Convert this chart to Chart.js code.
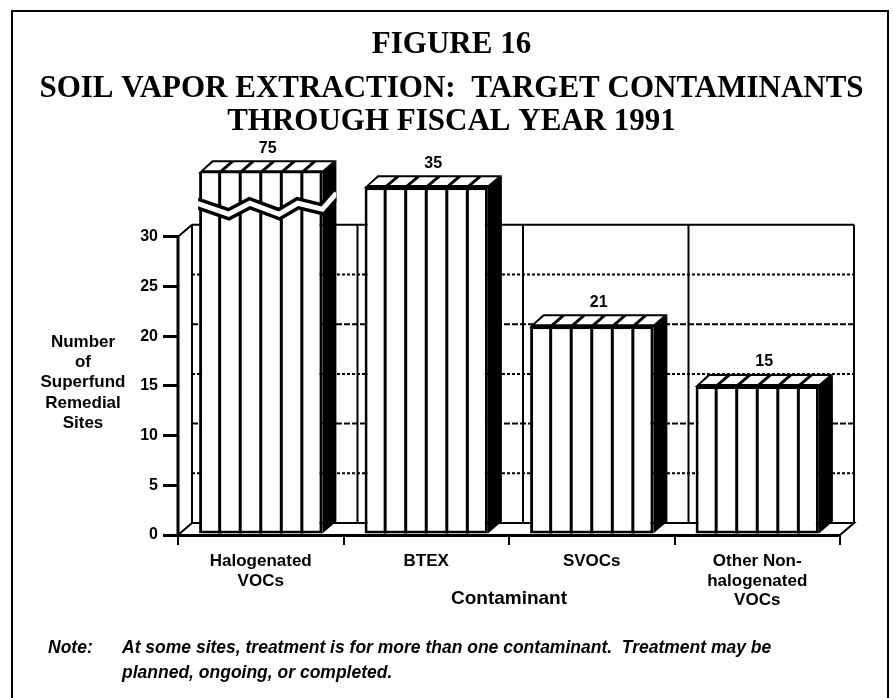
<!DOCTYPE html>
<html lang="en">

<head>
    <meta charset="UTF-8">
    <meta name="viewport" content="width=device-width, initial-scale=1.0">
    <title>Figure 16 - Soil Vapor Extraction</title>
    <style>
        html, body { margin: 0; padding: 0; background: #fff; }
        body { width: 893px; height: 698px; overflow: hidden; position: relative; }
        #frame { position: absolute; left: 11px; top: 10px; width: 874px; height: 760px; border: 2px solid #000; }
        #wrap { position: absolute; left: 0; top: 0; width: 893px; height: 698px; }
    </style>
</head>

<body>
    <div id="frame"></div>
    <div id="wrap">
        <canvas id="myChart" width="893" height="698"></canvas>
    </div>

    <script src="https://cdn.jsdelivr.net/npm/chart.js@4.4.2/dist/chart.umd.min.js"></script>

    <script>
        const categories = [
            ['Halogenated', 'VOCs'],
            ['BTEX'],
            ['SVOCs'],
            ['Other Non-', 'halogenated', 'VOCs'],
        ];
        const sites = [75, 35, 21, 15];
        const yTickValues = [0, 5, 10, 15, 20, 25, 30];

        const titleLines = ['FIGURE 16'];
        const subtitleLines = ['SOIL VAPOR EXTRACTION:  TARGET CONTAMINANTS', 'THROUGH FISCAL YEAR 1991'];
        const yTitleLines = ['Number', 'of', 'Superfund', 'Remedial', 'Sites'];
        const xTitle = 'Contaminant';
        const noteLabel = 'Note:';
        const noteLines = [
            'At some sites, treatment is for more than one contaminant.  Treatment may be',
            'planned, ongoing, or completed.',
        ];

        // back wall stops at 30, anything above the axis top gets a break
        const wallTop = 30;
        const axisTop = 36.5;
        // depth of the fake 3d
        const DX = 14, DY = 12;

        const sans = "'Liberation Sans', Arial, sans-serif";
        const serif = "'Liberation Serif', 'Times New Roman', serif";

        var line = function (ctx, x1, y1, x2, y2) {
            ctx.beginPath();
            ctx.moveTo(x1, y1);
            ctx.lineTo(x2, y2);
            ctx.stroke();
        };

        var poly = function (ctx, pts) {
            ctx.beginPath();
            ctx.moveTo(pts[0][0], pts[0][1]);
            for (var i = 1; i < pts.length; i++) ctx.lineTo(pts[i][0], pts[i][1]);
            ctx.closePath();
        };

        const depth3d = {
            id: 'depth3d',
            beforeDatasetsDraw(chart) {
                const { ctx, chartArea: a, scales: { y } } = chart;
                const L = a.left, R = a.right;
                const y0 = y.getPixelForValue(0);
                const yw = y.getPixelForValue(wallTop);
                const step = (R - L) / categories.length;

                ctx.save();
                ctx.strokeStyle = '#000';

                // grid on the back wall (odd ones look dotted in the print)
                ctx.lineWidth = 2;
                yTickValues.forEach(function (v) {
                    if (v === 0 || v === wallTop) return;
                    ctx.setLineDash(v % 10 === 0 ? [6, 2] : [3, 2]);
                    const py = y.getPixelForValue(v) - DY;
                    line(ctx, L + DX, py, R + DX, py);
                });
                ctx.setLineDash([]);

                // wall edges and category dividers
                ctx.lineWidth = 2;
                line(ctx, L + DX, yw - DY, R + DX, yw - DY);
                for (var k = 0; k <= categories.length; k++) {
                    const bx = L + k * step + DX;
                    line(ctx, bx, yw - DY, bx, y0 - DY);
                }
                line(ctx, L, yw, L + DX, yw - DY);

                // floor
                poly(ctx, [[L, y0], [L + DX, y0 - DY], [R + DX, y0 - DY], [R, y0]]);
                ctx.stroke();

                // front y axis line, only up to the wall top
                ctx.lineWidth = 3;
                line(ctx, L, y0, L, yw);
                ctx.restore();
            },
            afterDatasetsDraw(chart) {
                const { ctx, chartArea: a } = chart;
                const meta = chart.getDatasetMeta(0);

                ctx.save();
                meta.data.forEach(function (bar, i) {
                    const w = bar.width;
                    const x0 = bar.x - w / 2, x1 = bar.x + w / 2;
                    const yt = Math.max(bar.y, a.top);
                    const base = bar.base;

                    // vertical stripes on the front
                    ctx.fillStyle = '#000';
                    for (var k = 1; k < 6; k++) {
                        ctx.fillRect(x0 + k * w / 6 - 1.5, yt, 3, base - yt);
                    }

                    // side face
                    poly(ctx, [[x1, yt], [x1 + DX, yt - DY], [x1 + DX, base - DY], [x1, base]]);
                    ctx.fill();

                    // top face with white cells
                    poly(ctx, [[x0 - 1, yt + 1], [x1, yt + 1], [x1 + DX, yt - DY], [x0 + DX - 1, yt - DY]]);
                    ctx.fill();
                    ctx.fillStyle = '#fff';
                    const t0 = 0.17, t1 = 0.83;
                    for (var c = 0; c < 6; c++) {
                        const ca = x0 + c * w / 6 + 2.5, cb = x0 + (c + 1) * w / 6 - 2;
                        poly(ctx, [
                            [ca + DX * t0, yt - DY * t0], [cb + DX * t0, yt - DY * t0],
                            [cb + DX * t1, yt - DY * t1], [ca + DX * t1, yt - DY * t1],
                        ]);
                        ctx.fill();
                    }

                    // break for bars taller than the axis
                    if (sites[i] > axisTop) {
                        ctx.save();
                        poly(ctx, [[x0 - 1, yt - DY], [x1 + DX, yt - DY], [x1 + DX, base], [x0 - 1, base]]);
                        ctx.clip();
                        const yb = yt + 31, amp = 11;
                        const zig = [[-0.02, 0], [0.24, 1], [0.41, 0], [0.65, 1], [0.8, 0], [1, 0.55]];
                        ctx.beginPath();
                        zig.forEach(function (p, j) {
                            const px = x0 + p[0] * w, py = yb + p[1] * amp;
                            if (j === 0) ctx.moveTo(px, py); else ctx.lineTo(px, py);
                        });
                        ctx.lineTo(x1 + DX, yb - DY + 2);
                        ctx.lineJoin = 'miter';
                        ctx.strokeStyle = '#000';
                        ctx.lineWidth = 12;
                        ctx.stroke();
                        ctx.strokeStyle = '#fff';
                        ctx.lineWidth = 5;
                        ctx.stroke();
                        ctx.restore();
                    }

                    // value label over the top face
                    ctx.fillStyle = '#000';
                    ctx.font = 'bold 16px ' + sans;
                    ctx.textAlign = 'center';
                    ctx.textBaseline = 'middle';
                    ctx.fillText(String(sites[i]), bar.x + DX / 2, yt - DY - 12);
                });
                ctx.restore();
            },
            afterDraw(chart) {
                const ctx = chart.ctx;
                ctx.save();
                ctx.fillStyle = '#000';
                ctx.textBaseline = 'middle';

                // y title, written flat like the original
                ctx.font = 'bold 17px ' + sans;
                ctx.textAlign = 'center';
                yTitleLines.forEach(function (t, i) {
                    ctx.fillText(t, 83, 342 + i * 20.3);
                });

                // note at the bottom
                ctx.font = 'italic bold 17.5px ' + sans;
                ctx.textAlign = 'left';
                ctx.fillText(noteLabel, 48, 648);
                noteLines.forEach(function (t, i) {
                    ctx.fillText(t, 122, 648 + i * 25);
                });
                ctx.restore();
            }
        };

        const ctx = document.getElementById('myChart');

        new Chart(ctx, {
            type: 'bar',
            data: {
                labels: categories,
                datasets: [{
                    data: sites,
                    backgroundColor: '#fff',
                    borderColor: '#000',
                    borderWidth: 3,
                    borderSkipped: false,
                    categoryPercentage: 1,
                    barPercentage: 0.745,
                    clip: 0,
                }]
            },
            options: {
                responsive: false,
                animation: false,
                layout: {
                    padding: { left: 20, right: 10, top: 0, bottom: 0 },
                },
                scales: {
                    x: {
                        grid: {
                            offset: true,
                            drawOnChartArea: false,
                            tickLength: 10,
                            lineWidth: 2,
                            color: '#000',
                        },
                        border: { display: true, color: '#000', width: 3 },
                        ticks: {
                            color: '#000',
                            maxRotation: 0,
                            padding: 6,
                            font: { family: sans, size: 17, weight: 'bold', lineHeight: 1.17 },
                        },
                        title: {
                            display: true,
                            text: xTitle,
                            color: '#000',
                            font: { family: sans, size: 19, weight: 'bold', lineHeight: 1.2 },
                            padding: { top: 0, bottom: 88 },
                        },
                        afterFit: function (s) { s.height = 163; },
                    },
                    y: {
                        min: 0,
                        max: axisTop,
                        afterBuildTicks: function (s) {
                            s.ticks = yTickValues.map(function (v) { return { value: v }; });
                        },
                        grid: {
                            drawOnChartArea: false,
                            tickLength: 15,
                            lineWidth: 3,
                            color: '#000',
                        },
                        border: { display: false },
                        ticks: {
                            color: '#000',
                            padding: 5,
                            font: { family: sans, size: 16, weight: 'bold' },
                        },
                        afterFit: function (s) { s.width = 158; },
                    },
                    y2: {
                        position: 'right',
                        grid: { display: false },
                        border: { display: false },
                        ticks: { display: false },
                        afterFit: function (s) { s.width = 43; },
                    },
                },
                plugins: {
                    legend: { display: false },
                    tooltip: { enabled: false },
                    title: {
                        display: true,
                        text: titleLines,
                        color: '#000',
                        font: { family: serif, size: 31, weight: 'bold', lineHeight: 1.2 },
                        padding: { top: 26, bottom: 0 },
                    },
                    subtitle: {
                        display: true,
                        text: subtitleLines,
                        color: '#000',
                        font: { family: serif, size: 31, weight: 'bold', lineHeight: 1.065 },
                        padding: { top: 9, bottom: 34 },
                    },
                },
            },
            plugins: [depth3d],
        });
    </script>
</body>

</html>
